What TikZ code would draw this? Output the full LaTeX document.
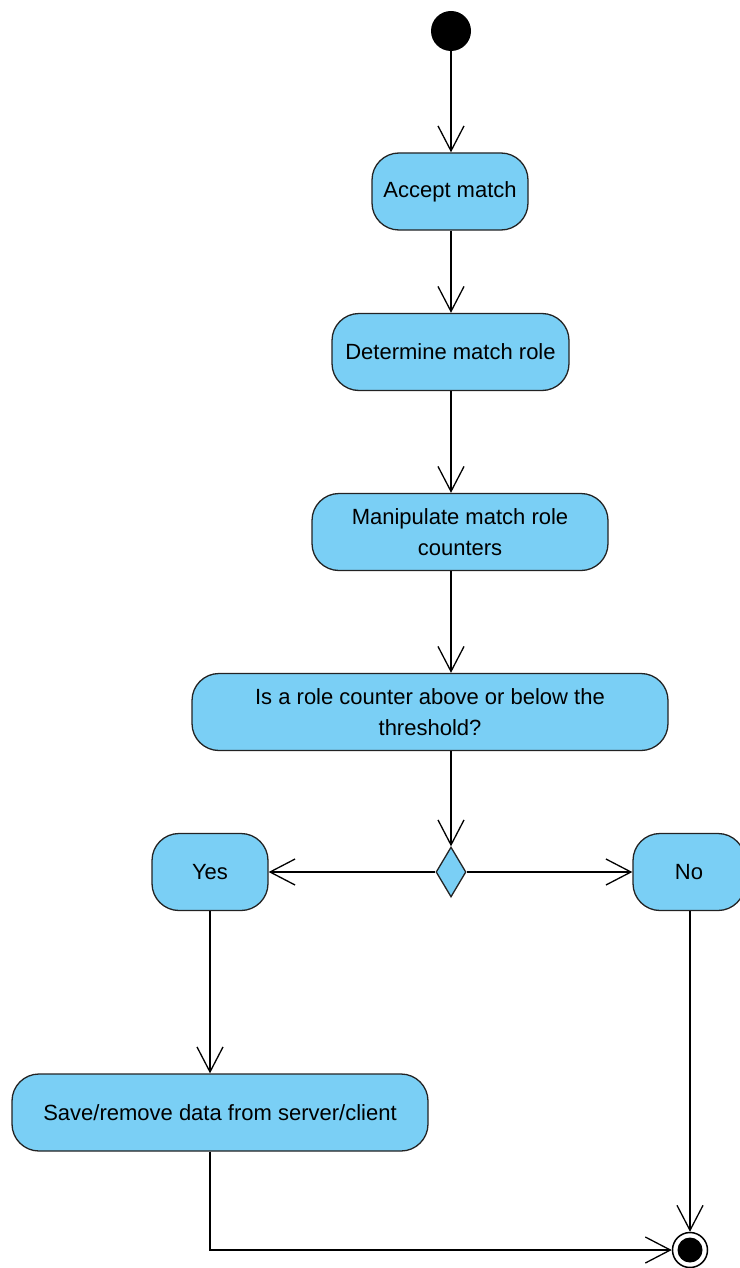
\documentclass[tikz,border=0pt]{standalone}
\usepackage{fontspec}
\setmainfont{Liberation Sans}
\usetikzlibrary{arrows.meta,shapes.geometric}
\definecolor{actfill}{RGB}{122,207,245}
\definecolor{actline}{RGB}{35,35,35}
\begin{document}
\begin{tikzpicture}[x=1pt,y=-1pt,
  action/.style={draw=actline, fill=actfill, line width=1.3pt, rounded corners=27pt,
    minimum height=77pt, align=center, inner sep=0pt,
    font=\fontsize{22}{31}\selectfont},
  flow/.style={draw=black, line width=1.3pt, -{Straight Barb[length=25pt,width=26pt]}},
  decision/.style={diamond, draw=actline, fill=actfill, line width=1.3pt, inner sep=0pt,
    minimum width=30pt, minimum height=50pt}
]
\useasboundingbox (0,0) rectangle (739,1268);

% start and end markers
\node[circle, fill=black, minimum size=40pt, inner sep=0pt] (start) at (451,31) {};
\node[circle, draw=black, fill=white, line width=1.5pt, minimum size=35pt, inner sep=0pt] (final) at (690,1250) {};
\node[circle, fill=black, minimum size=25pt, inner sep=0pt] (finaldot) at (final.center) {};

% activities
\node[action, minimum width=156pt] (accept) at (450,191.5) {Accept match};
\node[action, minimum width=237pt] (role) at (450.5,352) {Determine match role};
\node[action, minimum width=296pt] (manip) at (460,532) {Manipulate match role\\counters};
\node[action, minimum width=476pt] (question) at (430,712) {Is a role counter above or below the\\threshold?};
\node[decision] (dec) at (451,872) {};
\node[action, minimum width=116pt] (yes) at (210,872) {Yes};
\node[action, minimum width=112pt] (no) at (689,872) {No};
\node[action, minimum width=416pt] (save) at (220,1112.5) {Save/remove data from server/client};

% control flow
\draw[flow] (start) -- (accept.north -| start);
\draw[flow] (accept.south -| start) -- (role.north -| start);
\draw[flow] (role.south -| start) -- (manip.north -| start);
\draw[flow] (manip.south -| start) -- (question.north -| start);
\draw[flow] (question.south -| start) -- (dec.north);
\draw[flow] (dec.west) -- (yes.east);
\draw[flow] (dec.east) -- (no.west);
\draw[flow] (yes.south) -- (yes.south |- save.north);
\draw[flow] (no.south -| final) -- (final.north);
\draw[flow] (save.south -| yes.south) |- (final.west);
\end{tikzpicture}
\end{document}
